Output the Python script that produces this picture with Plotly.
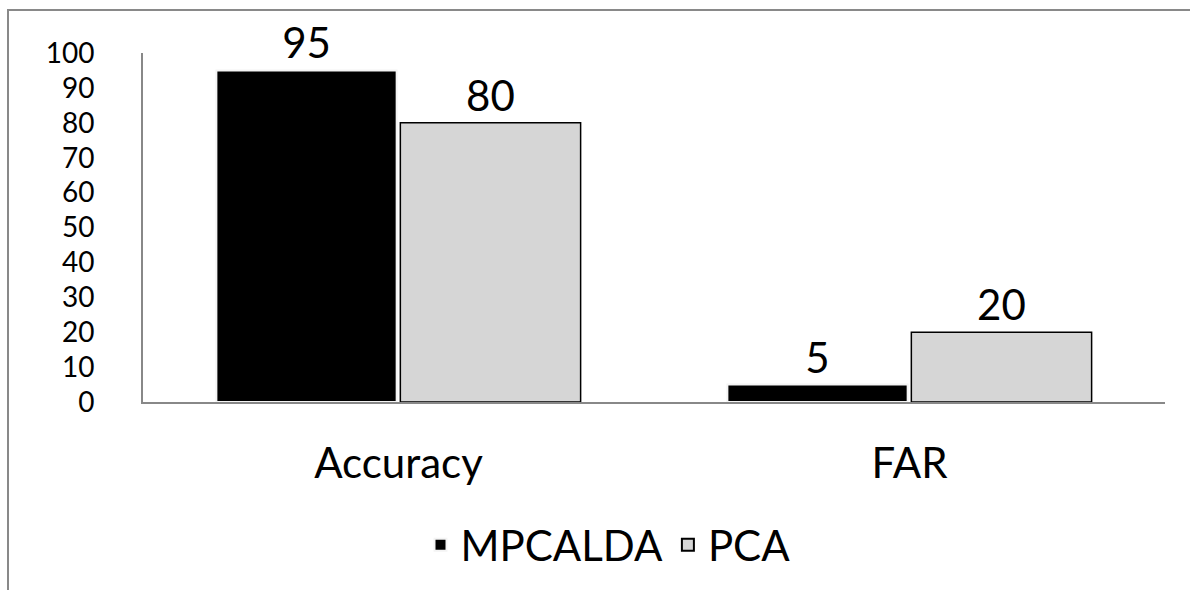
import plotly.graph_objects as go

categories = ["Accuracy", "FAR"]
mpcalda = [95, 5]
pca = [80, 20]
series_names = ["MPCALDA", "PCA"]
y_ticks = [0, 10, 20, 30, 40, 50, 60, 70, 80, 90, 100]

FONT = "Lato"
FS = 42
TICK_FS = 28

fig = go.Figure()
fig.add_trace(go.Bar(
    x=categories, y=mpcalda, name=series_names[0],
    marker=dict(color="#000000", line=dict(color="#f4f4f4", width=2)),
    text=[str(v) for v in mpcalda], textposition="outside",
    textfont=dict(family=FONT, size=FS, color="#000000"),
    cliponaxis=False,
))
fig.add_trace(go.Bar(
    x=categories, y=pca, name=series_names[1],
    marker=dict(color="#d6d6d6", line=dict(color="#000000", width=1.5)),
    text=[str(v) for v in pca], textposition="outside",
    textfont=dict(family=FONT, size=FS, color="#000000"),
    cliponaxis=False,
))

W, H = 1190, 590
L, R, T, B = 143, 25, 53, 187
pw, ph = W - L - R, H - T - B

def px_to_paper_x(px):
    return (px - L) / pw

def py_to_paper_y(py):
    return (H - B - py) / ph

fig.update_layout(
    width=W, height=H,
    margin=dict(l=L, r=R, t=T, b=B, pad=0),
    paper_bgcolor="#ffffff", plot_bgcolor="#ffffff",
    barmode="group", bargap=0.28, bargroupgap=0.02,
    font=dict(family=FONT, size=FS, color="#000000"),
    showlegend=True,
    legend=dict(orientation="h", x=px_to_paper_x(608), xanchor="center",
                y=py_to_paper_y(545), yanchor="middle",
                font=dict(family=FONT, size=FS, color="#000000"),
                itemsizing="constant", bgcolor="rgba(0,0,0,0)",
                tracegroupgap=0),
    xaxis=dict(showgrid=False, showline=True, linecolor="#888888", linewidth=2,
               ticks="", ticklabelstandoff=24, zeroline=False,
               tickfont=dict(family=FONT, size=FS, color="#000000")),
    yaxis=dict(range=[0, 100], tickvals=y_ticks, showgrid=False, showline=True,
               linecolor="#888888", linewidth=2, ticks="", zeroline=False,
               ticklabelstandoff=41,
               tickfont=dict(family=FONT, size=TICK_FS, color="#000000")),
    shapes=[dict(type="rect", xref="paper", yref="paper",
                 x0=px_to_paper_x(8), x1=px_to_paper_x(1250),
                 y0=py_to_paper_y(650), y1=py_to_paper_y(10),
                 line=dict(color="#898989", width=2), fillcolor="rgba(0,0,0,0)",
                 layer="below")],
)

fig.write_html("out.html")
